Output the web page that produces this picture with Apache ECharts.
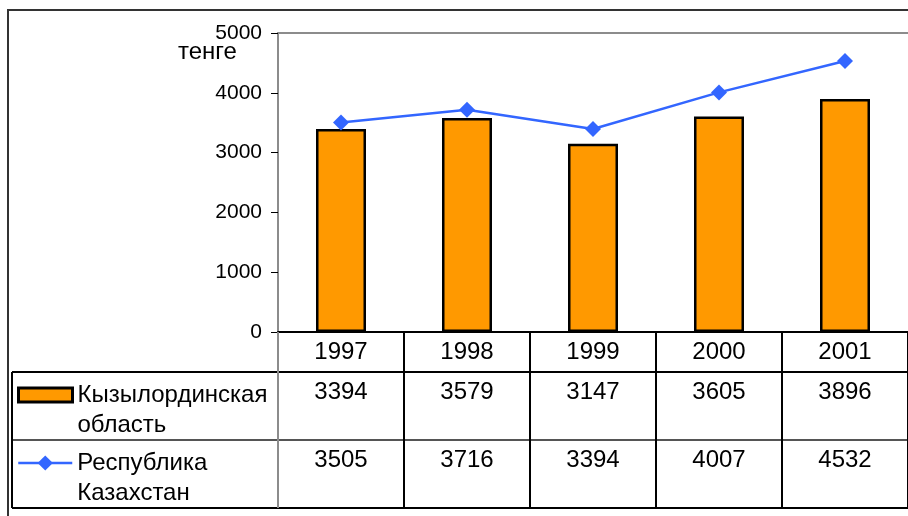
<!DOCTYPE html>
<html>
<head>
<meta charset="utf-8">
<script src="https://cdn.jsdelivr.net/npm/echarts@6/dist/echarts.min.js"></script>
<style>
  html, body { margin: 0; padding: 0; background: #fff; }
  #chart { width: 908px; height: 516px; }
</style>
</head>
<body>
<div id="chart"></div>
<script>
// Average monthly wage, tenge
const years = ['1997', '1998', '1999', '2000', '2001'];
const kyzylorda = [3394, 3579, 3147, 3605, 3896];
const kazakhstan = [3505, 3716, 3394, 4007, 4532];
const yTicks = { min: 0, max: 5000, step: 1000 };
const seriesNames = ['Кызылординская\nобласть', 'Республика\nКазахстан'];
const unitLabel = 'тенге';

const FONT = '"Liberation Sans", Arial, sans-serif';
const ORANGE = '#FF9900';
const BLUE = '#3366FF';
const TABLE_FS = 24;

const chart = echarts.init(document.getElementById('chart'), null, { renderer: 'canvas' });

// Table row layout below the plot (pixels)
const GRID = { left: 278, top: 33, right: 0, bottom: 184 };
const tableLeft = 12;
const rowLines = [372, 440, 508];

const tableLabel = { fontFamily: FONT, fontSize: TABLE_FS, color: '#000', margin: 8, verticalAlign: 'top' };

const tableAxisBase = {
  type: 'category',
  position: 'bottom',
  axisLine: { show: false },
  axisTick: { show: false },
  splitLine: { show: false },
  axisLabel: tableLabel
};

// Legend entries sit in the row headers; the leading blank line puts the
// first text line level with the key symbol.
const legendBase = {
  orient: 'vertical',
  left: tableLeft,
  itemWidth: 54,
  selectedMode: false,
  formatter: name => '\n' + name,
  textStyle: { fontFamily: FONT, fontSize: TABLE_FS, color: '#000', lineHeight: 30 }
};

chart.setOption({
  animation: false,
  backgroundColor: '#fff',
  textStyle: { fontFamily: FONT },
  grid: GRID,
  legend: [
    Object.assign({}, legendBase, {
      data: [{ name: seriesNames[0], icon: 'rect' }],
      top: 345,
      itemHeight: 14,
      itemStyle: { borderWidth: 3, borderColor: '#000' }
    }),
    Object.assign({}, legendBase, {
      data: [seriesNames[1]],
      top: 413,
      itemHeight: 19,
      lineStyle: { width: 2.5 }
    })
  ],
  xAxis: [
    {
      // year row with column dividers running down through the table
      type: 'category',
      data: years,
      position: 'bottom',
      axisLine: { show: true, lineStyle: { color: '#000', width: 2 } },
      axisTick: { show: true, alignWithLabel: false, length: 176, lineStyle: { color: '#000', width: 2 } },
      axisLabel: tableLabel
    },
    Object.assign({}, tableAxisBase, { data: kyzylorda.map(String), offset: 40 }),
    Object.assign({}, tableAxisBase, { data: kazakhstan.map(String), offset: 108 }),
    {
      // top frame line of the plot
      type: 'category',
      data: years,
      position: 'top',
      axisLine: { show: true, lineStyle: { color: '#8c8c8c', width: 2 } },
      axisTick: { show: false },
      axisLabel: { show: false }
    }
  ],
  yAxis: {
    type: 'value',
    min: yTicks.min,
    max: yTicks.max,
    interval: yTicks.step,
    axisLine: { show: true, lineStyle: { color: '#8c8c8c', width: 2 } },
    axisTick: { show: true, inside: false, length: 7, lineStyle: { color: '#000', width: 1 } },
    axisLabel: { fontFamily: FONT, fontSize: 21, color: '#000', margin: 16, formatter: v => String(v) },
    splitLine: { show: false }
  },
  series: [
    {
      name: seriesNames[0],
      type: 'bar',
      data: kyzylorda,
      barWidth: 50,
      itemStyle: { color: ORANGE, borderColor: '#000', borderWidth: 2.5 },
      z: 2
    },
    {
      name: seriesNames[1],
      type: 'line',
      data: kazakhstan,
      symbol: 'diamond',
      symbolSize: 16,
      lineStyle: { color: BLUE, width: 2.5 },
      itemStyle: { color: BLUE },
      z: 3
    }
  ],
  graphic: [
    // outer frame
    { type: 'rect', shape: { x: 8, y: 10, width: 940, height: 540 }, style: { fill: 'none', stroke: '#333', lineWidth: 2 }, silent: true },
    // table horizontal rules
    ...rowLines.map((y, i) => ({
      type: 'line',
      shape: { x1: tableLeft, y1: y, x2: 908, y2: y },
      style: { stroke: i === 1 ? '#555' : '#000', lineWidth: 2 },
      silent: true
    })),
    // table left edge
    { type: 'line', shape: { x1: tableLeft, y1: rowLines[0], x2: tableLeft, y2: rowLines[2] }, style: { stroke: '#000', lineWidth: 2 }, silent: true },
    // value-axis line continued down through the table
    { type: 'line', shape: { x1: 278, y1: 332, x2: 278, y2: rowLines[2] }, style: { stroke: '#8c8c8c', lineWidth: 2 }, silent: true, z: 10 },
    // unit caption
    { type: 'text', left: 178, top: 40, style: { text: unitLabel, font: '24px ' + FONT, fill: '#000' }, silent: true }
  ]
});
</script>
</body>
</html>
